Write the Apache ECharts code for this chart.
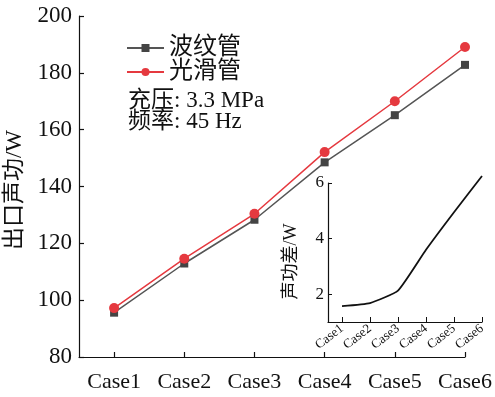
<!DOCTYPE html>
<html>
<head>
<meta charset="utf-8">
<script src="https://cdn.jsdelivr.net/npm/echarts@6/dist/echarts.min.js"></script>
<style>html,body{margin:0;padding:0;background:#fff}#c{width:495px;height:397px}</style>
</head>
<body>
<div id="c"></div>
<script>
const cases = ['Case1', 'Case2', 'Case3', 'Case4', 'Case5', 'Case6'];
const corrugated = [95.6, 112.9, 128.3, 148.5, 165.1, 182.8];   // 波纹管
const smooth = [97.2, 114.6, 130.4, 152.1, 170.0, 189.1];       // 光滑管
const diff = [1.57, 1.68, 2.13, 3.6, 4.95, 6.25];               // 声功差
const mainYTicks = [80, 100, 120, 140, 160, 180, 200];
const insetYTicks = [2, 4, 6];
const caseIdx = cases.map((c, i) => i + 1);

const FONT = '"Liberation Serif", "Noto Sans CJK SC", serif';
const toPairs = arr => arr.map((v, i) => [i + 1, v]);
const fmtCase = v => cases[Math.round(v) - 1] || '';

const chart = echarts.init(document.getElementById('c'), null, {renderer: 'canvas'});
chart.setOption({
  animation: false,
  backgroundColor: '#fff',
  textStyle: {fontFamily: FONT},
  grid: [
    {left: 79, right: 30, top: 16, bottom: 40, outerBoundsMode: 'none', containLabel: false},
    {left: 328, right: 13, top: 183, bottom: 75, outerBoundsMode: 'none', containLabel: false}
  ],
  xAxis: [
    {
      gridIndex: 0, type: 'value', min: 0.5, max: 6,
      splitLine: {show: false},
      axisLine: {lineStyle: {color: '#111', width: 1.2}},
      axisTick: {inside: true, length: 5, customValues: caseIdx, lineStyle: {color: '#111', width: 1.2}},
      axisLabel: {customValues: caseIdx, formatter: fmtCase, margin: 14, color: '#111', fontSize: 22, fontFamily: FONT}
    },
    {
      gridIndex: 1, type: 'value', min: 0.5, max: 6,
      splitLine: {show: false},
      axisLine: {lineStyle: {color: '#111', width: 1.2}},
      axisTick: {inside: true, length: 5, customValues: caseIdx, lineStyle: {color: '#111', width: 1}},
      axisLabel: {customValues: caseIdx, formatter: fmtCase, rotate: 38, margin: 5, color: '#111', fontSize: 13, fontFamily: FONT}
    }
  ],
  yAxis: [
    {
      gridIndex: 0, type: 'value', min: 80, max: 200,
      splitLine: {show: false},
      axisLine: {show: true, lineStyle: {color: '#111', width: 1.2}},
      axisTick: {inside: true, length: 5, customValues: mainYTicks, lineStyle: {color: '#111', width: 1.2}},
      axisLabel: {customValues: mainYTicks, margin: 7, color: '#111', fontSize: 23, fontFamily: FONT},
      name: '出口声功/W', nameLocation: 'middle', nameRotate: 90, nameGap: 43,
      nameTextStyle: {fontSize: 23, color: '#111', fontFamily: FONT, padding: [0, 7, 0, 0]}
    },
    {
      gridIndex: 1, type: 'value', min: 1, max: 6,
      splitLine: {show: false},
      axisLine: {show: true, lineStyle: {color: '#111', width: 1.2}},
      axisTick: {inside: true, length: 4, customValues: insetYTicks, lineStyle: {color: '#111', width: 1}},
      axisLabel: {customValues: insetYTicks, margin: 4, color: '#111', fontSize: 17, fontFamily: FONT},
      name: '声功差/W', nameLocation: 'middle', nameRotate: 90, nameGap: 28,
      nameTextStyle: {fontSize: 18, color: '#111', fontFamily: FONT, padding: [0, 18, 0, 0]}
    }
  ],
  legend: {
    orient: 'vertical', left: 126, top: 36, itemGap: 0, padding: 0,
    itemWidth: 37, itemHeight: 10,
    textStyle: {fontSize: 24, lineHeight: 23, color: '#111', fontFamily: FONT},
    data: ['波纹管', '光滑管']
  },
  graphic: [
    {type: 'text', left: 128, top: 89, style: {text: '充压: 3.3 MPa', font: '23px ' + FONT, fill: '#111'}},
    {type: 'text', left: 128, top: 110, style: {text: '频率: 45 Hz', font: '23px ' + FONT, fill: '#111'}}
  ],
  series: [
    {
      name: '波纹管', type: 'line', xAxisIndex: 0, yAxisIndex: 0,
      data: toPairs(corrugated), symbol: 'rect', symbolSize: 8,
      lineStyle: {color: '#555', width: 1.5}, itemStyle: {color: '#444'}
    },
    {
      name: '光滑管', type: 'line', xAxisIndex: 0, yAxisIndex: 0,
      data: toPairs(smooth), symbol: 'circle', symbolSize: 10,
      lineStyle: {color: '#e5393f', width: 1.5}, itemStyle: {color: '#e5393f'}
    },
    {
      name: '声功差', type: 'line', xAxisIndex: 1, yAxisIndex: 1,
      data: toPairs(diff), symbol: 'none', smooth: 0.15, clip: false,
      lineStyle: {color: '#111', width: 1.8}
    }
  ]
});
</script>
</body>
</html>
